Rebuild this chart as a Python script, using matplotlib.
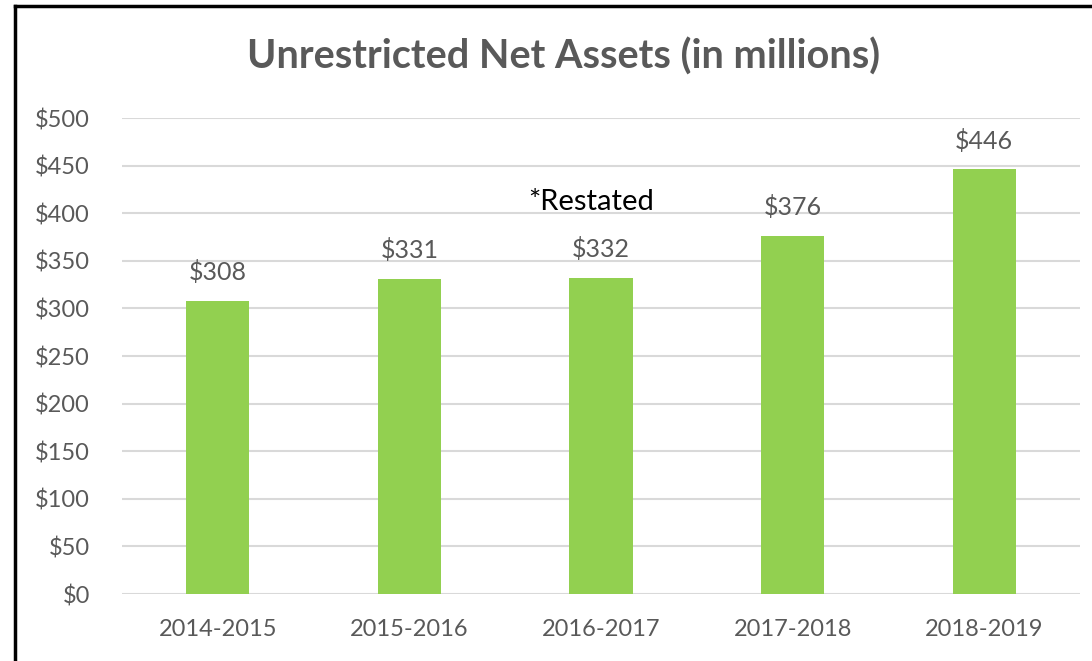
import matplotlib.pyplot as plt
import numpy as np

years = ['2014-2015', '2015-2016', '2016-2017', '2017-2018', '2018-2019']
net_assets = [308, 331, 332, 376, 446]
yticks = np.arange(0, 501, 50)

plt.rcParams['font.family'] = ['Lato', 'DejaVu Sans']

fig = plt.figure(figsize=(10.92, 6.61), dpi=100)
ax = fig.add_axes([122 / 1092, 1 - 594 / 661, 958 / 1092, 476 / 661])

x = np.arange(len(years))
bars = ax.bar(x, net_assets, width=0.33, color='#92D050', zorder=3)

for xi, v in zip(x, net_assets):
    ax.text(xi, v + 30, '${}'.format(v), ha='center', va='center',
            fontsize=18, color='#595959')

ax.text(1.95, 412, '*Restated', ha='center', va='center', fontsize=21, color='black')

ax.set_xlim(-0.5, len(years) - 0.5)
ax.set_ylim(0, 500)
ax.set_yticks(yticks)
ax.set_yticklabels(['${}'.format(t) for t in yticks])
ax.set_xticks(x)
ax.set_xticklabels(years)
ax.tick_params(axis='both', length=0, labelsize=17, colors='#595959')
ax.tick_params(axis='y', pad=23)
ax.tick_params(axis='x', pad=18)
ax.yaxis.grid(True, color='#D9D9D9', linewidth=1.5, zorder=0)
for s in ax.spines.values():
    s.set_visible(False)

fig.text(564 / 1092, 1 - 57 / 661, 'Unrestricted Net Assets (in millions)',
         ha='center', va='center', fontsize=28.5, fontweight='bold', color='#595959')

# outer frame: left and top edges
fig.add_artist(plt.Line2D([15 / 1092, 15 / 1092], [0, 1 - 6 / 661], color='black', linewidth=2.5))
fig.add_artist(plt.Line2D([15 / 1092, 1090 / 1092], [1 - 6 / 661, 1 - 6 / 661], color='black', linewidth=2.5))

fig.savefig('out.png', dpi=100, facecolor='white')
